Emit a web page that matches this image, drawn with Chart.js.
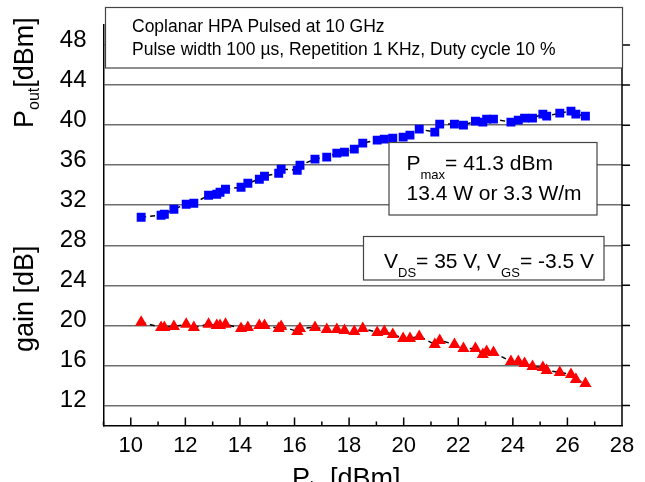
<!DOCTYPE html>
<html>
<head>
<meta charset="utf-8">
<script src="https://cdn.jsdelivr.net/npm/chart.js@4.4.1/dist/chart.umd.min.js"></script>
<style>
  html, body { margin: 0; padding: 0; background: #fff; }
  #wrap { width: 645px; height: 482px; }
</style>
</head>
<body>
<div id="wrap"><canvas id="chart-hpa" width="645" height="482"></canvas></div>
<script>
// input power sweep [dBm], shared by both curves
var pinValues = [10.38, 11.11, 11.23, 11.58, 12.03, 12.31, 12.85, 13.15, 13.27, 13.47,
    14.04, 14.29, 14.71, 14.90, 15.42, 15.51, 16.10, 16.20, 16.75, 17.18,
    17.55, 17.83, 18.19, 18.50, 19.03, 19.29, 19.60, 19.98, 20.23, 20.57,
    21.14, 21.32, 21.86, 22.19, 22.63, 22.90, 23.04, 23.29, 23.93, 24.20,
    24.43, 24.72, 25.10, 25.24, 25.72, 26.13, 26.31, 26.66];
// output power [dBm]
var poutValues = [30.8, 31.0, 31.1, 31.6, 32.1, 32.2, 33.0, 33.1, 33.3, 33.6,
    33.8, 34.2, 34.6, 34.9, 35.2, 35.6, 35.5, 36.0, 36.6, 36.8,
    37.2, 37.3, 37.6, 38.2, 38.5, 38.6, 38.7, 38.8, 39.0, 39.6,
    39.3, 40.1, 40.1, 40.0, 40.4, 40.3, 40.6, 40.6, 40.3, 40.5,
    40.7, 40.7, 41.1, 40.9, 41.2, 41.4, 41.1, 40.9];
// gain [dB]
var gainValues = [20.3, 19.8, 19.8, 19.9, 20.1, 19.8, 20.1, 20.0, 20.0, 20.1,
    19.7, 19.8, 20.0, 20.0, 19.7, 19.9, 19.4, 19.7, 19.8, 19.6,
    19.6, 19.5, 19.4, 19.7, 19.3, 19.4, 19.1, 18.7, 18.7, 18.9,
    18.1, 18.5, 18.1, 17.7, 17.7, 17.1, 17.4, 17.3, 16.4, 16.4,
    16.2, 15.9, 15.8, 15.5, 15.3, 15.1, 14.6, 14.2];

var xTicks = [9, 10, 11, 12, 13, 14, 15, 16, 17, 18, 19, 20, 21, 22, 23, 24, 25, 26, 27, 28];
var yTicks = [12, 16, 20, 24, 28, 32, 36, 40, 44, 48];

var FONT = "'Liberation Sans', Arial, sans-serif";

function toPoints(ys) {
    return pinValues.map(function (x, i) { return { x: x, y: ys[i] }; });
}

// draws a run of text pieces [text, size, dy] one after the other
function drawRun(ctx, parts, x, y) {
    parts.forEach(function (p) {
        ctx.font = p[1] + 'px ' + FONT;
        ctx.fillText(p[0], x, y + (p[2] || 0));
        x += ctx.measureText(p[0]).width;
    });
}

function drawBox(ctx, x0, y0, x1, y1) {
    ctx.fillStyle = '#fff';
    ctx.fillRect(x0, y0, x1 - x0, y1 - y0);
    ctx.strokeStyle = '#444';
    ctx.lineWidth = 1.2;
    ctx.strokeRect(x0, y0, x1 - x0, y1 - y0);
}

var decorPlugin = {
    id: 'decor',
    afterDraw: function (chart) {
        var ctx = chart.ctx;
        var area = chart.chartArea;
        var xs = chart.scales.x;
        var ys = chart.scales.y;
        ctx.save();
        ctx.strokeStyle = '#000';
        ctx.lineWidth = 1.5;
        // right axis + outer ticks
        ctx.beginPath();
        ctx.moveTo(area.right, area.top);
        ctx.lineTo(area.right, area.bottom);
        yTicks.forEach(function (v) {
            var py = ys.getPixelForValue(v);
            ctx.moveTo(area.right, py);
            ctx.lineTo(area.right + 8, py);
        });
        // inward ticks on the bottom axis
        xTicks.forEach(function (v) {
            var px = xs.getPixelForValue(v);
            var len = v % 2 === 0 ? 8 : 4;
            ctx.moveTo(px, area.bottom);
            ctx.lineTo(px, area.bottom - len);
        });
        ctx.stroke();

        ctx.fillStyle = '#000';
        ctx.textBaseline = 'alphabetic';
        ctx.textAlign = 'left';

        // axis titles
        ctx.save();
        ctx.translate(33, 128);
        ctx.rotate(-Math.PI / 2);
        drawRun(ctx, [['P', 27], ['out', 16, 6], ['[dBm]', 27]], 0, 0);
        ctx.restore();
        ctx.save();
        ctx.translate(33, 352);
        ctx.rotate(-Math.PI / 2);
        drawRun(ctx, [['gain [dB]', 27]], 0, 0);
        ctx.restore();
        drawRun(ctx, [['P', 27], ['in', 16, 6], [' [dBm]', 27]], 292, 487);

        // info boxes
        drawBox(ctx, 105.5, 7.5, 622.5, 68);
        ctx.fillStyle = '#000';
        ctx.textBaseline = 'middle';
        drawRun(ctx, [['Coplanar HPA Pulsed at 10 GHz', 17.5]], 132, 27.5);
        drawRun(ctx, [['Pulse width 100 \u00b5s, Repetition 1 KHz, Duty cycle 10 %', 17.5]], 132, 50);

        drawBox(ctx, 389, 142.5, 597, 215);
        ctx.fillStyle = '#000';
        drawRun(ctx, [['P', 21], ['max', 13, 11], ['= 41.3 dBm', 21]], 406.5, 164);
        drawRun(ctx, [['13.4 W or 3.3 W/m', 21]], 406.5, 194.5);

        drawBox(ctx, 363.5, 236.5, 604, 280);
        ctx.fillStyle = '#000';
        drawRun(ctx, [['V', 21], ['DS', 13, 11], ['= 35 V, V', 21], ['GS', 13, 11], ['= -3.5 V', 21]], 384, 262);
        ctx.restore();
    }
};

var ctxHpa = document.getElementById('chart-hpa').getContext('2d');
var hpaChart = new Chart(ctxHpa, {
    type: 'scatter',
    data: {
        datasets: [{
            label: 'Pout',
            data: toPoints(poutValues),
            showLine: true,
            borderColor: '#000',
            borderWidth: 1.5,
            borderDash: [5, 4],
            pointStyle: 'rect',
            pointRadius: 6.3,
            pointBackgroundColor: '#0000ff',
            pointBorderColor: '#0000ff',
            pointBorderWidth: 0
        }, {
            label: 'gain',
            data: toPoints(gainValues),
            showLine: true,
            borderColor: '#000',
            borderWidth: 1.5,
            borderDash: [5, 4],
            pointStyle: 'triangle',
            pointRadius: 7,
            pointBackgroundColor: '#ff0000',
            pointBorderColor: '#ff0000',
            pointBorderWidth: 0
        }]
    },
    options: {
        responsive: false,
        animation: false,
        devicePixelRatio: 1,
        events: [],
        layout: { padding: { top: 25, right: 23, left: 0, bottom: 0 } },
        plugins: { legend: { display: false }, tooltip: { enabled: false } },
        scales: {
            x: {
                type: 'linear',
                min: 9,
                max: 28,
                afterBuildTicks: function (s) { s.ticks = xTicks.map(function (v) { return { value: v }; }); },
                afterFit: function (s) {
                    s.height = 56.5;
                    s.paddingLeft = 0;
                    s.paddingRight = 0;
                },
                ticks: {
                    autoSkip: false,
                    maxRotation: 0,
                    color: '#000',
                    padding: 7,
                    font: { family: FONT, size: 22 },
                    callback: function (v) { return v % 2 === 0 ? v : ''; }
                },
                grid: { display: false, drawTicks: false },
                border: { display: true, color: '#000', width: 1.5 }
            },
            y: {
                min: 10,
                max: 50,
                afterBuildTicks: function (s) { s.ticks = yTicks.map(function (v) { return { value: v }; }); },
                afterFit: function (s) {
                    s.width = 103.5;
                    s.paddingTop = 0;
                    s.paddingBottom = 0;
                },
                ticks: {
                    color: '#000',
                    padding: 17,
                    labelOffset: -5,
                    font: { family: FONT, size: 24 }
                },
                grid: { color: '#6e6e6e', lineWidth: 1.5, drawTicks: false },
                border: { display: true, color: '#000', width: 1.5 }
            }
        }
    },
    plugins: [decorPlugin]
});
</script>
</body>
</html>
